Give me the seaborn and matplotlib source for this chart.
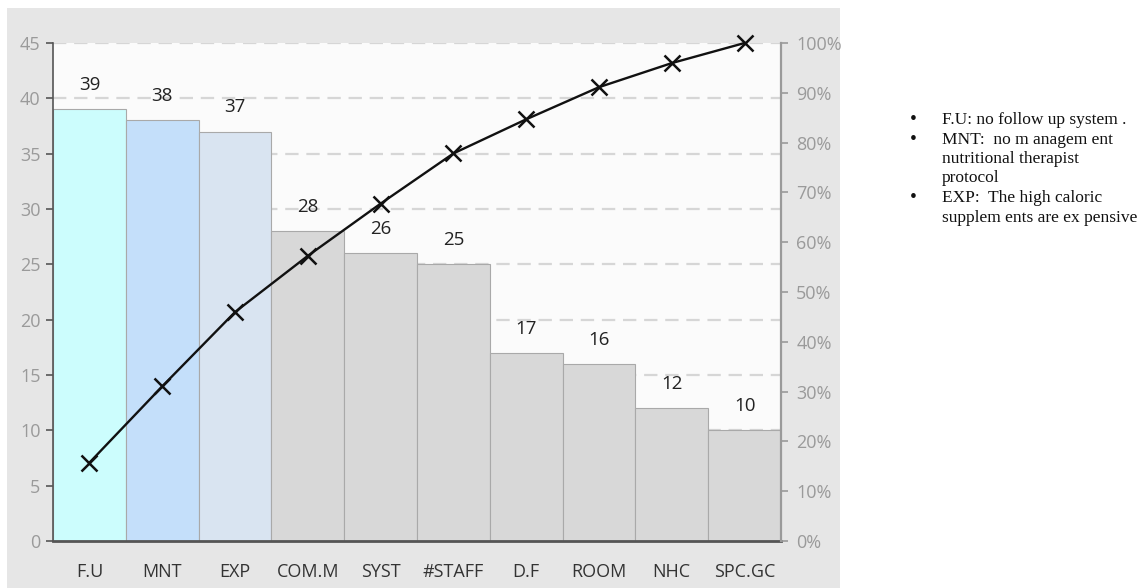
import numpy as np
import matplotlib
matplotlib.use("Agg")
import matplotlib.pyplot as plt
from matplotlib.patches import Rectangle
from matplotlib.ticker import PercentFormatter, MultipleLocator
import seaborn as sns

# Pareto data: causes and their frequencies
categories = ["F.U", "MNT", "EXP", "COM.M", "SYST", "#STAFF", "D.F", "ROOM", "NHC", "SPC.GC"]
counts = [39, 38, 37, 28, 26, 25, 17, 16, 12, 10]
bar_colors = ["#ccfdfd", "#c4dffa", "#d9e4f1", "#d8d8d8", "#d8d8d8",
              "#d8d8d8", "#d8d8d8", "#d8d8d8", "#d8d8d8", "#d8d8d8"]
left_ticks = [0, 5, 10, 15, 20, 25, 30, 35, 40, 45]
notes = [
    ["F.U: no follow up system ."],
    ["MNT:  no m anagem ent", "nutritional therapist", "protocol"],
    ["EXP:  The high caloric", "supplem ents are ex pensive"],
]

cum_share = np.cumsum(counts) / np.sum(counts)

sns.set_theme(style="white")
plt.rcParams["font.family"] = ["Open Sans", "DejaVu Sans"]

W, H = 1145, 588
fig = plt.figure(figsize=(W / 100, H / 100), dpi=100)
fig.patch.set_facecolor("white")

# grey panel behind the chart
fig.patches.append(Rectangle((7 / W, 0), 833 / W, (H - 8) / H, transform=fig.transFigure,
                             facecolor="#e6e6e6", edgecolor="none", zorder=-10))

ax = fig.add_axes([53 / W, (H - 541) / H, (781 - 53) / W, (541 - 43) / H])
ax.set_facecolor("#fbfbfb")

sns.barplot(x=categories, y=counts, hue=categories, palette=bar_colors, legend=False,
            width=1.0, saturation=1, edgecolor="#a9a9a9", linewidth=0.8, ax=ax)

ax.set_xlim(-0.5, len(categories) - 0.5)
ax.set_ylim(0, 45)
ax.set_yticks(left_ticks)
ax.set_axisbelow(True)
ax.yaxis.grid(True, color="#d6d6d6", linestyle=(0, (6, 3.5)), linewidth=1.6)
ax.xaxis.grid(False)
ax.set_xlabel("")
ax.set_ylabel("")

for i, v in enumerate(counts):
    ax.text(i, v + 2.2, str(v), ha="center", va="center", fontsize=13.5, color="#222222")

for side in ["top", "right"]:
    ax.spines[side].set_visible(False)
ax.spines["left"].set_color("#555555")
ax.spines["left"].set_linewidth(1.2)
ax.spines["bottom"].set_color("#555555")
ax.spines["bottom"].set_linewidth(2.0)
ax.tick_params(axis="y", which="both", left=True, length=5, width=1.2, color="#555555",
               labelsize=13, labelcolor="#9a9a9a", pad=4)
ax.tick_params(axis="x", bottom=False, labelsize=13, labelcolor="#333333", pad=10)

# cumulative percentage line on the secondary axis
ax2 = ax.twinx()
sns.lineplot(x=np.arange(len(categories)), y=cum_share, ax=ax2, color="#111111",
             linewidth=1.7, marker="x", markersize=11, markeredgewidth=1.8,
             markeredgecolor="#111111", clip_on=False)
ax2.set_ylim(0, 1)
ax2.yaxis.set_major_locator(MultipleLocator(0.1))
ax2.yaxis.set_major_formatter(PercentFormatter(1.0, decimals=0))
ax2.set_ylabel("")
for side in ["top", "left", "bottom"]:
    ax2.spines[side].set_visible(False)
ax2.spines["right"].set_color("#9a9a9a")
ax2.spines["right"].set_linewidth(1.6)
ax2.tick_params(axis="y", right=True, length=5, width=1.2, color="#9a9a9a",
                labelsize=13, labelcolor="#9a9a9a", pad=6)
ax2.set_xlim(-0.5, len(categories) - 0.5)

# side notes explaining abbreviations
line_h = 19.5
y = 120
for block in notes:
    fig.text(910 / W, 1 - y / H, "•", ha="left", va="center", fontsize=14,
             family="Liberation Serif", color="#111111")
    for line in block:
        fig.text(942 / W, 1 - y / H, line, ha="left", va="center", fontsize=12.5,
                 family="Liberation Serif", color="#111111")
        y += line_h

fig.savefig("out.png", dpi=100, facecolor="white")
